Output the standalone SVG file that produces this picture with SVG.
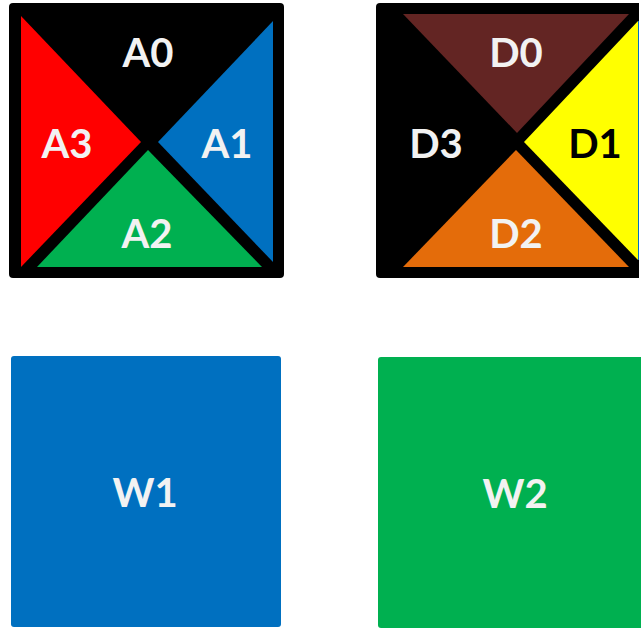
<svg xmlns="http://www.w3.org/2000/svg" width="641" height="628" viewBox="0 0 641 628">
<style>
.lbl{font-family:Lato,"Open Sans","Liberation Sans",sans-serif;font-weight:bold;font-size:40px;text-anchor:middle;fill:#F2F2F2}
.dark{fill:#000}
</style>
<rect width="641" height="628" fill="#fff"/>
<g id="nodeA">
<rect x="9" y="3" width="275" height="275" rx="4" fill="#000"/>
<polygon points="21,16 21,267 141,142" fill="#FF0000"/>
<polygon points="273,21 273,262 158,142" fill="#0070C0"/>
<polygon points="37,267 262,267 148,150" fill="#00B050"/>
<text class="lbl" x="148" y="67">A0</text>
<text class="lbl" x="227" y="158">A1</text>
<text class="lbl" x="147" y="248">A2</text>
<text class="lbl" x="67" y="158">A3</text>
</g>
<g id="nodeD">
<path d="M380,3 H639 V278 H380 Q376,278 376,274 V7 Q376,3 380,3 Z" fill="#000"/>
<polygon points="403,14 629,14 517,133" fill="#632523"/>
<polygon points="638,21 638,260 524,142" fill="#FFFF00"/>
<line x1="638.5" y1="21" x2="638.5" y2="260" stroke="#0070C0" stroke-width="1"/>
<polygon points="403,267 629,267 516,150" fill="#E46C0A"/>
<text class="lbl" x="516" y="67">D0</text>
<text class="lbl dark" x="595" y="158">D1</text>
<text class="lbl" x="516" y="248">D2</text>
<text class="lbl" x="436" y="158">D3</text>
</g>
<g id="nodeW1">
<rect x="11" y="356" width="270" height="271" rx="3" fill="#0070C0"/>
<text class="lbl" x="145" y="507">W1</text>
</g>
<g id="nodeW2">
<path d="M381,357 H641 V628 H381 Q378,628 378,625 V360 Q378,357 381,357 Z" fill="#00B050"/>
<text class="lbl" x="515" y="508">W2</text>
</g>
<g id="connectors"></g>
</svg>
